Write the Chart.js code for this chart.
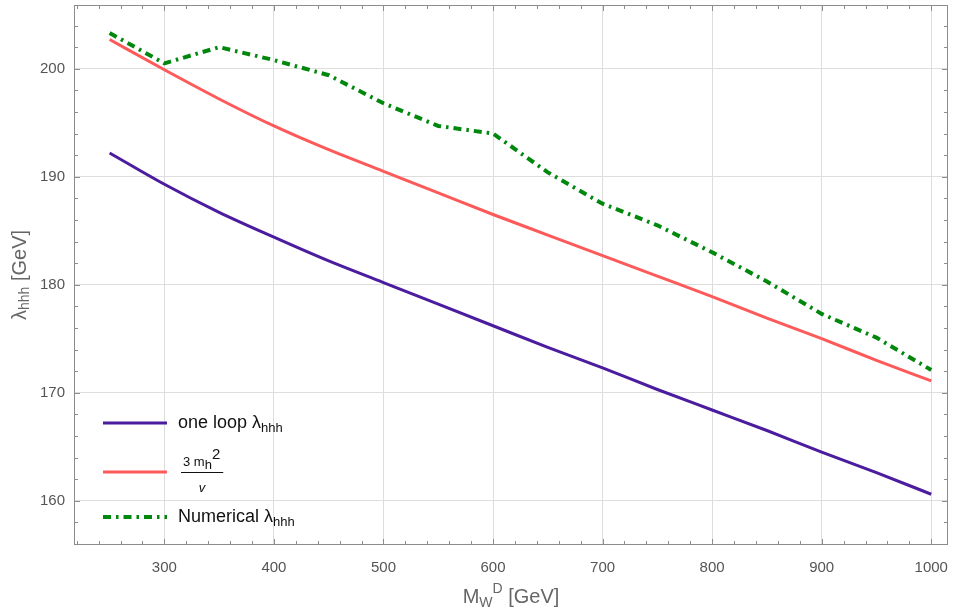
<!DOCTYPE html>
<html>
<head>
<meta charset="utf-8">
<script src="https://cdn.jsdelivr.net/npm/chart.js@4/dist/chart.umd.min.js"></script>
<style>
html, body { margin: 0; padding: 0; background: #fff; }
</style>
</head>
<body>
<canvas id="pic" width="955" height="611"></canvas>
<script>
// M_W^D in GeV
var mass = [250, 300, 350, 400, 450, 500, 550, 600, 650, 700, 750, 800, 850, 900, 950, 1000];
// one loop lambda_hhh
var oneLoop = [192.2, 189.3, 186.7, 184.4, 182.2, 180.2, 178.2, 176.2, 174.2, 172.3, 170.3, 168.4, 166.5, 164.5, 162.6, 160.6];
// 3 m_h^2 / v
var treeLevel = [202.7, 199.9, 197.2, 194.7, 192.5, 190.5, 188.5, 186.5, 184.6, 182.7, 180.8, 178.9, 176.9, 175.0, 173.0, 171.1];
// numerical lambda_hhh
var numerical = [203.3, 200.5, 202.0, 200.8, 199.4, 196.8, 194.7, 194.0, 190.4, 187.5, 185.5, 183.0, 180.3, 177.3, 175.1, 172.1];

var xTicks = [300, 400, 500, 600, 700, 800, 900, 1000];
var yTicks = [160, 170, 180, 190, 200];
var xMinorStep = 20;
var yMinorStep = 2;

var FONT = "'Liberation Sans', Arial, sans-serif";
var purple = '#4b1d9e';
var red = '#ff5a5a';
var green = '#00880d';
var greenDash = [8, 5, 2.5, 5];

function pts(ys) {
    return mass.map(function (m, i) { return {x: m, y: ys[i]}; });
}

// draw a list of text pieces with their own size and vertical shift
function runs(ctx, x, y, list, color) {
    ctx.fillStyle = color;
    ctx.textBaseline = 'middle';
    ctx.textAlign = 'left';
    list.forEach(function (r) {
        ctx.font = r.size + 'px ' + FONT;
        ctx.fillText(r.t, x, y + (r.dy || 0));
        x += ctx.measureText(r.t).width;
    });
    return x;
}
function runsWidth(ctx, list) {
    var w = 0;
    list.forEach(function (r) {
        ctx.font = r.size + 'px ' + FONT;
        w += ctx.measureText(r.t).width;
    });
    return w;
}

var xTitle = [{t: 'M', size: 20}, {t: 'W', size: 14, dy: 6}, {t: 'D', size: 14, dy: -8}, {t: ' [GeV]', size: 20}];
var yTitle = [{t: 'λ', size: 20}, {t: 'hhh', size: 14, dy: 5}, {t: ' [GeV]', size: 20}];
var oneLoopLabel = [{t: 'one loop λ', size: 18}, {t: 'hhh', size: 13, dy: 5}];
var numericalLabel = [{t: 'Numerical λ', size: 18}, {t: 'hhh', size: 13, dy: 5}];
var fracTop = [{t: '3 m', size: 13}, {t: 'h', size: 13, dy: 3}, {t: '2', size: 15, dy: -7}];

var framePlugin = {
    id: 'frame',
    afterDatasetsDraw: function (chart) {
        var ctx = chart.ctx, a = chart.chartArea;
        var xs = chart.scales.x, ys = chart.scales.y;
        ctx.save();
        ctx.strokeStyle = '#8c8c8c';
        ctx.lineWidth = 1;
        ctx.strokeRect(a.left + 0.5, a.top + 0.5, a.right - a.left - 1, a.bottom - a.top - 1);
        ctx.beginPath();
        var v, px, len;
        for (v = Math.ceil(xs.min / xMinorStep) * xMinorStep; v <= xs.max; v += xMinorStep) {
            px = Math.round(xs.getPixelForValue(v)) + 0.5;
            len = xTicks.indexOf(v) >= 0 ? 6 : 4;
            ctx.moveTo(px, a.bottom); ctx.lineTo(px, a.bottom - len);
            ctx.moveTo(px, a.top); ctx.lineTo(px, a.top + len);
        }
        for (v = Math.ceil(ys.min / yMinorStep) * yMinorStep; v <= ys.max; v += yMinorStep) {
            px = Math.round(ys.getPixelForValue(v)) + 0.5;
            len = yTicks.indexOf(v) >= 0 ? 6 : 4;
            ctx.moveTo(a.left, px); ctx.lineTo(a.left + len, px);
            ctx.moveTo(a.right, px); ctx.lineTo(a.right - len, px);
        }
        ctx.stroke();
        ctx.restore();
    },
    afterDraw: function (chart) {
        var ctx = chart.ctx, a = chart.chartArea;
        ctx.save();
        // axis titles
        var w = runsWidth(ctx, xTitle);
        runs(ctx, (a.left + a.right) / 2 - w / 2, 597, xTitle, '#666');
        ctx.translate(20, (a.top + a.bottom) / 2);
        ctx.rotate(-Math.PI / 2);
        w = runsWidth(ctx, yTitle);
        runs(ctx, -w / 2, 0, yTitle, '#666');
        ctx.restore();

        // legend
        ctx.save();
        var x0 = 103, x1 = 167, tx = 178;
        var rows = [423, 472, 517];
        var styles = [[purple, 3, []], [red, 3, []], [green, 4, greenDash]];
        rows.forEach(function (y, i) {
            ctx.strokeStyle = styles[i][0];
            ctx.lineWidth = styles[i][1];
            ctx.setLineDash(styles[i][2]);
            ctx.beginPath();
            ctx.moveTo(x0, y); ctx.lineTo(x1, y);
            ctx.stroke();
        });
        ctx.setLineDash([]);
        runs(ctx, tx, rows[0], oneLoopLabel, '#111');
        runs(ctx, tx, rows[2], numericalLabel, '#111');
        // fraction 3 m_h^2 / v
        var end = runs(ctx, 183, rows[1] - 10, fracTop, '#111');
        ctx.strokeStyle = '#111';
        ctx.lineWidth = 1;
        ctx.beginPath();
        ctx.moveTo(181, rows[1] + 0.5); ctx.lineTo(end + 3, rows[1] + 0.5);
        ctx.stroke();
        ctx.font = 'italic 13px ' + FONT;
        ctx.textAlign = 'center';
        ctx.textBaseline = 'middle';
        ctx.fillText('v', (181 + end + 3) / 2, rows[1] + 16);
        ctx.restore();
    }
};

var grid = {color: '#dddddd', lineWidth: 1, drawTicks: false};
var tickFont = {family: FONT, size: 15};

new Chart(document.getElementById('pic').getContext('2d'), {
    type: 'line',
    data: {
        datasets: [{
            label: 'one loop',
            data: pts(oneLoop),
            borderColor: purple,
            borderWidth: 3,
            pointRadius: 0,
            fill: false,
            cubicInterpolationMode: 'monotone'
        }, {
            label: '3 mh^2 / v',
            data: pts(treeLevel),
            borderColor: red,
            borderWidth: 3,
            pointRadius: 0,
            fill: false,
            cubicInterpolationMode: 'monotone'
        }, {
            label: 'Numerical',
            data: pts(numerical),
            borderColor: green,
            borderWidth: 4,
            borderDash: greenDash,
            pointRadius: 0,
            fill: false,
            tension: 0
        }]
    },
    options: {
        responsive: false,
        animation: false,
        devicePixelRatio: 1,
        layout: {padding: {left: 0, right: 7, top: 5, bottom: 0}},
        plugins: {legend: {display: false}, tooltip: {enabled: false}},
        scales: {
            x: {
                type: 'linear',
                min: 217.5,
                max: 1015.3,
                grid: grid,
                border: {display: false},
                afterBuildTicks: function (s) { s.ticks = xTicks.map(function (v) { return {value: v}; }); },
                afterFit: function (s) { s.height = 66; s.paddingLeft = 0; s.paddingRight = 0; },
                ticks: {font: tickFont, color: '#555', padding: 14, maxRotation: 0,
                        callback: function (v) { return String(v); }}
            },
            y: {
                type: 'linear',
                min: 155.9,
                max: 205.9,
                grid: grid,
                border: {display: false},
                afterBuildTicks: function (s) { s.ticks = yTicks.map(function (v) { return {value: v}; }); },
                afterFit: function (s) { s.width = 74; s.paddingTop = 0; s.paddingBottom = 0; },
                ticks: {font: tickFont, color: '#555', padding: 9}
            }
        }
    },
    plugins: [framePlugin]
});
</script>
</body>
</html>
